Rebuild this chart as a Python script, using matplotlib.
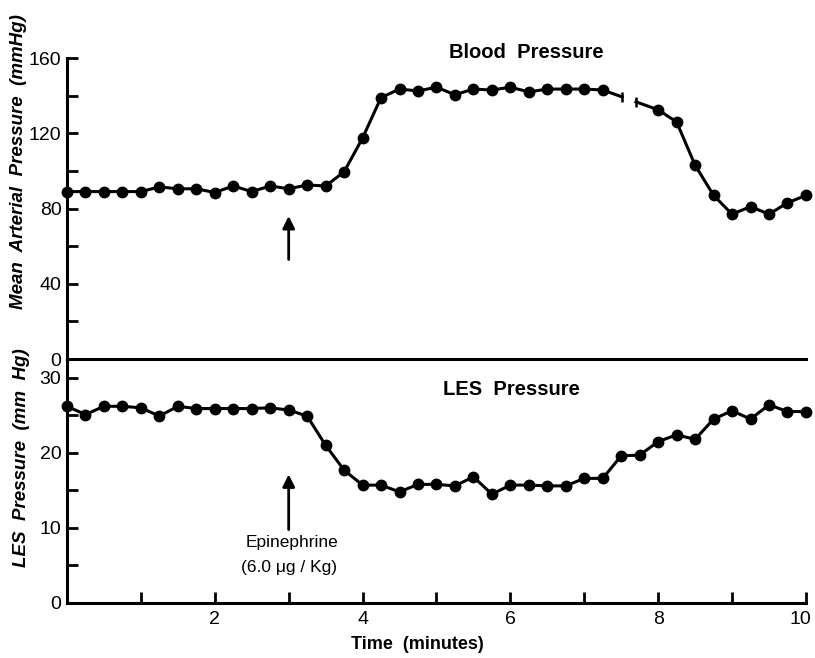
import numpy as np
import matplotlib
matplotlib.use("Agg")
import matplotlib.pyplot as plt
import matplotlib.transforms as mtransforms

plt.rcParams['font.family'] = ['Liberation Sans', 'DejaVu Sans']

# sampling times (minutes), one reading every 15 s
time_min = [0.0, 0.25, 0.5, 0.75, 1.0, 1.25, 1.5, 1.75, 2.0, 2.25, 2.5, 2.75,
            3.0, 3.25, 3.5, 3.75, 4.0, 4.25, 4.5, 4.75, 5.0, 5.25, 5.5, 5.75,
            6.0, 6.25, 6.5, 6.75, 7.0, 7.25, 7.5, 7.75, 8.0, 8.25, 8.5, 8.75,
            9.0, 9.25, 9.5, 9.75, 10.0]

# mean arterial pressure (mmHg), no reading at 7.5 and 7.75 min (break)
map_mmhg = [89, 89, 89, 89, 89, 91.5, 90.5, 90.5, 88.5, 92, 89, 92,
            90.5, 92.5, 92, 99.5, 117.5, 139, 143.5, 142.5, 144.5, 140.5, 143.5, 143,
            144.5, 142, 143.5, 143.5, 143.5, 143, np.nan, np.nan, 132.5, 126, 103, 87,
            77, 81, 77, 83, 87]

# LES pressure (mmHg)
les_mmhg = [26.2, 25.1, 26.2, 26.2, 26.0, 24.9, 26.2, 25.9, 25.9, 25.9, 25.9, 26.0,
            25.7, 24.9, 21.0, 17.7, 15.7, 15.7, 14.8, 15.8, 15.8, 15.6, 16.8, 14.5,
            15.7, 15.7, 15.6, 15.6, 16.6, 16.6, 19.6, 19.7, 21.5, 22.4, 21.8, 24.5,
            25.6, 24.5, 26.4, 25.5, 25.5]

injection_time = 3.0

fig = plt.figure(figsize=(8.15, 6.58), dpi=100)
ax1 = fig.add_axes([0.0822, 0.4544, 0.9067, 0.4574])
ax2 = fig.add_axes([0.0822, 0.0836, 0.9067, 0.3708])
ax2.set_facecolor('none')  # keep the shared 0-line of the top panel visible

line_kw = dict(color='black', lw=2.2, marker='o', markersize=7.5, clip_on=False)

# --- blood pressure panel
ax1.plot(time_min, map_mmhg, **line_kw)

# broken-line segment across the missing readings
t = np.array(time_min)
v = np.array(map_mmhg, dtype=float)
gap = np.where(np.isnan(v))[0]
i0, i1 = gap[0] - 1, gap[-1] + 1
p0 = np.array([t[i0], v[i0]])
p1 = np.array([t[i1], v[i1]])
a = p0 + (p1 - p0) * 0.35
b = p0 + (p1 - p0) * 0.6
ax1.plot([p0[0], a[0]], [p0[1], a[1]], color='black', lw=2.2)
ax1.plot([b[0], p1[0]], [b[1], p1[1]], color='black', lw=2.2)
ax1.plot([a[0], b[0]], [a[1], b[1]], ls='none', marker='|', markersize=7,
         mew=1.8, color='black')

ax1.set_xlim(0, 10)
ax1.set_ylim(0, 160)
ax1.set_yticks([0, 40, 80, 120, 160])
ax1.set_yticks([20, 60, 100, 140], minor=True)
ax1.tick_params(axis='x', bottom=False, labelbottom=False)
ax1.tick_params(axis='y', which='both', direction='in', length=8, width=2,
                labelsize=14, pad=4)
ax1.text(6.21, 162.7, 'Blood  Pressure', ha='center', va='center',
         fontsize=14.5, fontweight='bold')
ax1.annotate('', xy=(injection_time, 77.5), xytext=(injection_time, 51.4),
             arrowprops=dict(arrowstyle='-|>', lw=2, color='black',
                             mutation_scale=18))

# --- LES panel
ax2.plot(time_min, les_mmhg, **line_kw)
ax2.set_xlim(0, 10)
ax2.set_ylim(0, 32.5)
ax2.set_yticks([0, 10, 20, 30])
ax2.set_yticks([5, 15, 25], minor=True)
ax2.set_xticks([2, 4, 6, 8, 10])
ax2.set_xticks([1, 3, 5, 7, 9], minor=True)
ax2.tick_params(which='both', direction='in', length=8, width=2, labelsize=14)
ax2.tick_params(axis='x', pad=6)
ax2.tick_params(axis='y', pad=4)
# pull the "10" label in a little so it stays inside the figure
last = ax2.get_xticklabels()[-1]
last.set_transform(last.get_transform() +
                   mtransforms.ScaledTranslation(-4 / 72, 0, fig.dpi_scale_trans))
ax2.text(6.02, 28.4, 'LES  Pressure', ha='center', va='center',
         fontsize=14.5, fontweight='bold')
ax2.annotate('', xy=(injection_time, 17.5), xytext=(injection_time, 9.4),
             arrowprops=dict(arrowstyle='-|>', lw=2, color='black',
                             mutation_scale=18))
ax2.text(3.05, 8.0, 'Epinephrine', ha='center', va='center', fontsize=12.5)
ax2.text(3.0, 4.7, '(6.0 \u03bcg / Kg)', ha='center', va='center', fontsize=12.5)

for ax in (ax1, ax2):
    ax.spines['top'].set_visible(False)
    ax.spines['right'].set_visible(False)
    ax.spines['left'].set_linewidth(2.2)
    ax.spines['bottom'].set_linewidth(2.2)

fig.text(0.474 * 0.9067 + 0.0822, 0.02, 'Time  (minutes)', ha='center',
         va='center', fontsize=13, fontweight='bold')
fig.text(19 / 815, 1 - 162 / 658, 'Mean  Arterial  Pressure  (mmHg)',
         rotation=90, ha='center', va='center', fontsize=13.5,
         fontweight='bold', style='italic')
fig.text(22 / 815, 1 - 458 / 658, 'LES  Pressure  (mm  Hg)',
         rotation=90, ha='center', va='center', fontsize=13.5,
         fontweight='bold', style='italic')

fig.savefig('out.png', dpi=100, facecolor='white')
